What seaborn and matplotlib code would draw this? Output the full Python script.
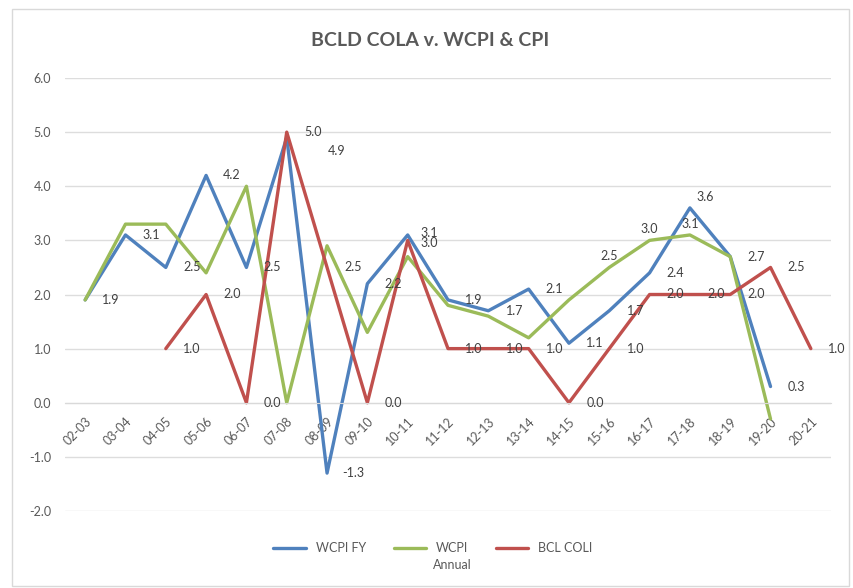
import numpy as np
import pandas as pd
import seaborn as sns
import matplotlib.pyplot as plt
from matplotlib.patches import Rectangle

periods = ['02-03', '03-04', '04-05', '05-06', '06-07', '07-08', '08-09', '09-10', '10-11',
           '11-12', '12-13', '13-14', '14-15', '15-16', '16-17', '17-18', '18-19', '19-20', '20-21']
wcpi_fy = [1.9, 3.1, 2.5, 4.2, 2.5, 4.9, -1.3, 2.2, 3.1, 1.9, 1.7, 2.1, 1.1, 1.7, 2.4, 3.6, 2.7, 0.3, np.nan]
wcpi_annual = [1.9, 3.3, 3.3, 2.4, 4.0, 0.0, 2.9, 1.3, 2.7, 1.8, 1.6, 1.2, 1.9, 2.5, 3.0, 3.1, 2.7, -0.3, np.nan]
bcl_coli = [np.nan, np.nan, 1.0, 2.0, 0.0, 5.0, 2.5, 0.0, 3.0, 1.0, 1.0, 1.0, 0.0, 1.0, 2.0, 2.0, 2.0, 2.5, 1.0]
series_names = ['WCPI FY', 'WCPI Annual', 'BCL COLI']
legend_labels = ['WCPI FY', 'WCPI', 'BCL COLI']
green_labelled = ['15-16', '16-17', '17-18']

colors = {'WCPI FY': '#4F81BD', 'WCPI Annual': '#9BBB59', 'BCL COLI': '#C0504D'}


def build_frame():
    wide = pd.DataFrame({'period': periods, 'WCPI FY': wcpi_fy,
                         'WCPI Annual': wcpi_annual, 'BCL COLI': bcl_coli})
    long = wide.melt(id_vars='period', var_name='series', value_name='pct')
    long['pos'] = long['period'].map({p: i for i, p in enumerate(periods)})
    return long.dropna(subset=['pct'])


df = build_frame()

sns.set_style('white')
plt.rcParams['font.family'] = ['Lato', 'DejaVu Sans']

fig = plt.figure(figsize=(8.54, 5.88), dpi=100)
ax = fig.add_axes([65 / 854, 1 - 511 / 588, 766 / 854, 433 / 588])

sns.lineplot(data=df, x='pos', y='pct', hue='series', hue_order=series_names,
             palette=colors, linewidth=2.4, errorbar=None, legend=False, ax=ax)

# x axis crosses at zero like the excel chart; do this before styling the ticks
for s in ['top', 'right', 'left']:
    ax.spines[s].set_visible(False)
ax.spines['bottom'].set_position(('data', 0))
ax.spines['bottom'].set_color('#D9D9D9')

ax.set_xlim(-0.5, len(periods) - 0.5)
ax.set_ylim(-2.0, 6.0)
ax.set_yticks(np.arange(-2, 7, 1))
ax.set_yticklabels([f'{v:.1f}' for v in np.arange(-2, 7, 1)], color='#595959', fontsize=9)
ax.set_xticks(range(len(periods)))
ax.set_xticklabels(periods, rotation=45, ha='right', va='top', rotation_mode='anchor',
                   color='#595959', fontsize=9)
ax.tick_params(axis='y', length=0, pad=10)
ax.tick_params(axis='x', length=0, pad=9)
ax.grid(axis='y', color='#DDDDDD', linewidth=1)
ax.set_axisbelow(True)
ax.set_xlabel('')
ax.set_ylabel('')

# data labels (excel style: right of the point, a few moved by hand)
special = {('WCPI FY', '07-08'): (50, -13), ('WCPI FY', '17-18'): (15, 11),
           ('WCPI FY', '10-11'): (22, 2), ('BCL COLI', '10-11'): (22, -3)}
for _, row in df.iterrows():
    if row['series'] == 'WCPI Annual':
        if row['period'] not in green_labelled:
            continue
        off = (0, 11)
    else:
        off = special.get((row['series'], row['period']), (26, 0))
    ax.annotate(f"{row['pct']:.1f}", (row['pos'], row['pct']), xytext=off,
                textcoords='offset pixels', ha='center', va='center',
                fontsize=9, color='#404040')

fig.text(430 / 854, 1 - 40 / 588, 'BCLD COLA v. WCPI & CPI', ha='center', va='center',
         fontsize=14, fontweight='bold', color='#595959')

handles = ax.get_lines()[:3]
leg = fig.legend(handles, legend_labels, loc='center', bbox_to_anchor=(433 / 854, 1 - 548 / 588),
                 ncol=3, frameon=False, handlelength=2.6, columnspacing=2.2, fontsize=9,
                 labelcolor='#595959')
fig.canvas.draw()
wb = leg.get_texts()[1].get_window_extent()
fig.text((wb.x0 + wb.x1) / 2 / fig.bbox.width, (wb.y0 - 11) / fig.bbox.height, 'Annual',
         ha='center', va='center', fontsize=9, color='#595959')

fig.patches.append(Rectangle((12 / 854, 2 / 588), 837 / 854, 577 / 588, transform=fig.transFigure,
                             fill=False, edgecolor='#D9D9D9', linewidth=1))

fig.savefig('out.png', dpi=100)
